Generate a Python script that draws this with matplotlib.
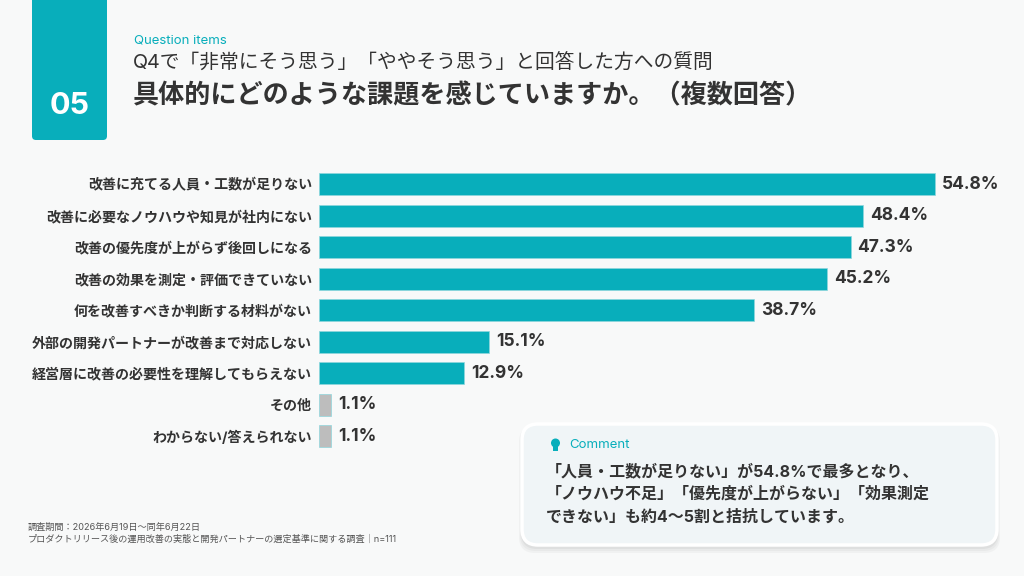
import matplotlib
matplotlib.use("Agg")
import matplotlib.pyplot as plt
from matplotlib.patches import FancyBboxPatch, Circle, Rectangle

plt.rcParams['font.family'] = ['Inter', 'Noto Sans CJK JP', 'DejaVu Sans']

categories = [
    "改善に充てる人員・工数が足りない",
    "改善に必要なノウハウや知見が社内にない",
    "改善の優先度が上がらず後回しになる",
    "改善の効果を測定・評価できていない",
    "何を改善すべきか判断する材料がない",
    "外部の開発パートナーが改善まで対応しない",
    "経営層に改善の必要性を理解してもらえない",
    "その他",
    "わからない/答えられない",
]
values = [54.8, 48.4, 47.3, 45.2, 38.7, 15.1, 12.9, 1.1, 1.1]
is_other = [False, False, False, False, False, False, False, True, True]

comment_lines = [
    "「人員・工数が足りない」が54.8%で最多となり、",
    "「ノウハウ不足」「優先度が上がらない」「効果測定",
    "できない」も約4〜5割と拮抗しています。",
]
footer_lines = [
    "調査期間：2026年6月19日〜同年6月22日",
    "プロダクトリリース後の運用改善の実態と開発パートナーの選定基準に関する調査｜n=111",
]

TEAL = "#08AEBB"
GRAY = "#BDBDBD"
TEXT = "#333333"
BG = "#F8F9F9"

W, H = 1024, 576
fig = plt.figure(figsize=(W / 100, H / 100), dpi=100, facecolor=BG)

# full-figure layer in pixel coordinates
bg = fig.add_axes([0, 0, 1, 1])
bg.set_xlim(0, W)
bg.set_ylim(H, 0)
bg.axis("off")

# number badge
bg.add_patch(FancyBboxPatch((32, -10), 75, 150, boxstyle="round,pad=0,rounding_size=4",
                            fc=TEAL, ec="none"))
bg.text(70, 114, "05", color="white", fontsize=22, fontweight="bold",
        ha="center", va="baseline")

bg.text(134, 41, "Question items", color=TEAL, fontsize=9.5, va="center")
bg.text(133, 63, "Q4で「非常にそう思う」「ややそう思う」と回答した方への質問",
        color=TEXT, fontsize=14.2, va="center")
bg.text(133, 96, "具体的にどのような課題を感じていますか。（複数回答）",
        color=TEXT, fontsize=18.8, fontweight="bold", va="center")

# comment box with soft shadow
for i, a in enumerate([0.03, 0.03, 0.04]):
    off = 6 - i * 2
    bg.add_patch(FancyBboxPatch((522 - off / 2, 424 + 2), 475 + off, 121 + off,
                                boxstyle="round,pad=0,rounding_size=16",
                                fc="#000000", ec="none", alpha=a))
bg.add_patch(FancyBboxPatch((522, 424), 475, 121, boxstyle="round,pad=0,rounding_size=16",
                            fc="#F0F5F7", ec="white", lw=2.5))
bg.add_patch(Circle((555.5, 443), 4.5, fc=TEAL, ec="none"))
bg.add_patch(Rectangle((553, 446), 5, 5, fc=TEAL, ec="none"))
bg.text(569, 445, "Comment", color=TEAL, fontsize=9.5, va="center")
for i, line in enumerate(comment_lines):
    bg.text(546, 471 + i * 23, line, color=TEXT, fontsize=11.5,
            fontweight="bold", va="center")

for i, line in enumerate(footer_lines):
    bg.text(28, 527 + i * 12.5, line, color="#555555", fontsize=6.6, va="center")

# bar chart
x0, x_per = 319, 11.24
xmax = 60
top, bottom = 168.25, 452
ax = fig.add_axes([x0 / W, 1 - bottom / H, xmax * x_per / W, (bottom - top) / H])
ax.set_facecolor("none")
ypos = list(range(len(categories)))
colors = [GRAY if o else TEAL for o in is_other]
ax.barh(ypos, values, height=0.7, color=colors, edgecolor="#8fd7dd", linewidth=0.5)
for y, v in zip(ypos, values):
    ax.text(v + 0.62, y, f"{v:.1f}%", color=TEXT, fontsize=12.5, fontweight="bold",
            va="center", ha="left")
ax.set_xlim(0, xmax)
ax.set_ylim(len(categories) - 0.5, -0.5)
ax.set_yticks(ypos)
ax.set_yticklabels(categories, fontsize=10.1, color=TEXT, fontweight="bold")
ax.tick_params(axis="y", length=0, pad=5)
ax.set_xticks([])
for s in ax.spines.values():
    s.set_visible(False)

fig.savefig("out.png", dpi=100, facecolor=BG)
